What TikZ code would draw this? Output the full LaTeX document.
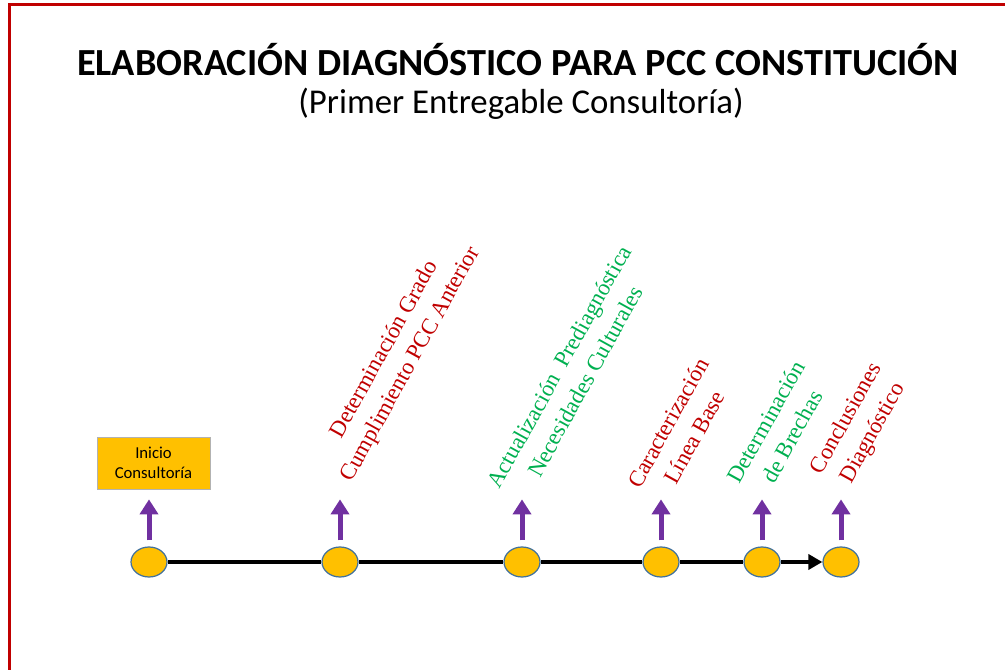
\documentclass[tikz,border=0pt]{standalone}
\usepackage{fontspec}
\setmainfont{Carlito}
\newfontfamily\timesfont{Liberation Serif}
\usetikzlibrary{positioning,calc,arrows.meta,shapes.geometric}
\definecolor{amber}{HTML}{FFC000}
\definecolor{darkred}{HTML}{C00000}
\definecolor{okgreen}{HTML}{00B050}
\definecolor{arrowpurple}{HTML}{7030A0}
\definecolor{rimblue}{HTML}{41719C}
\tikzset{
	milestone/.style={ellipse, fill=amber, draw=rimblue, line width=0.7pt, minimum width=0.72cm, minimum height=0.6cm, inner sep=0pt},
	startbox/.style={fill=amber, draw=gray!60, align=center, minimum width=2.26cm, minimum height=1.04cm, inner sep=1pt, font=\fontsize{9.5}{11.3}\selectfont},
	timeline/.style={black, line width=0.08cm},
	uparrow/.style={arrowpurple, line width=0.1cm, -{Triangle[length=0.3cm,width=0.36cm]}},
	steplabel/.style={rotate=61, align=center, inner sep=0pt, font=\timesfont\fontsize{13}{17}\selectfont}
}

\begin{document}
\begin{tikzpicture}
	\useasboundingbox (0,0) rectangle (20.1,13.4);
	% frame
	\draw[darkred, line width=0.06cm] (0.19,-0.2) -- (0.19,13.3) -- (20.3,13.3);

	% titles
	\node (title) at (10.36,12.2) {\fontsize{21.8}{26}\selectfont\bfseries ELABORACIÓN DIAGNÓSTICO PARA PCC CONSTITUCIÓN};
	\node (subtitle) at (10.42,11.32) {\fontsize{19.8}{23}\selectfont (Primer Entregable Consultoría)};

	\node[startbox] (inicio) at (3.07,4.14) {Inicio\\Consultoría};

	% hitos
	\foreach \n/\x in {1/2.98,2/6.80,3/10.44,4/13.22,5/15.24,6/16.82}
		\node[milestone] (e\n) at (\x,2.16) {};

	\foreach \a/\b in {1/2,2/3,3/4,4/5}
		\draw[timeline] (e\a) -- (e\b);
	\draw[timeline, -{Triangle[length=0.28cm,width=0.3cm]}] (e5) -- (e6);

	\foreach \n in {1,...,6}
		\draw[uparrow] ([yshift=0.12cm]e\n.north) -- ++(0,0.82);

	% etiquetas
	\node[steplabel, text=darkred] (lab2) at (7.96,6.26) {Determinación Grado\\Cumplimiento PCC Anterior};
	\node[steplabel, text=okgreen] (lab3) at (11.44,5.92) {Actualización\ \ Prediagnóstica\\Necesidades Culturales};
	\node[steplabel, text=darkred] (lab4) at (13.62,4.80) {Caracterización\\Línea Base};
	\node[steplabel, text=okgreen] (lab5) at (15.58,4.82) {Determinación\\de Brechas};
	\node[steplabel, text=darkred] (lab6) at (17.2,4.88) {Conclusiones\\Diagnóstico};
\end{tikzpicture}
\end{document}
